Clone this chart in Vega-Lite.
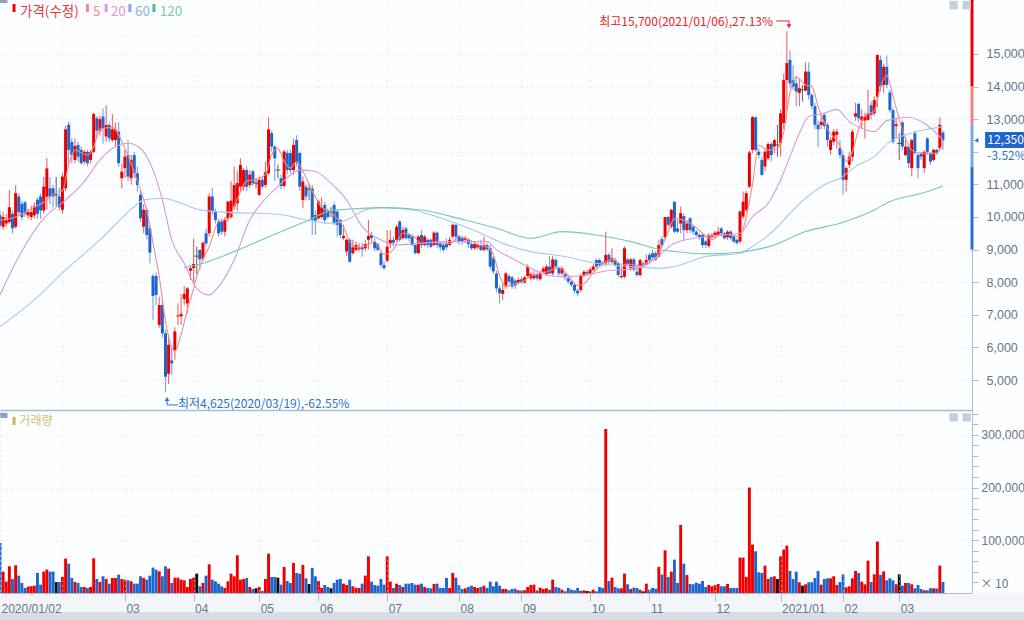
{
"$schema":"https://vega.github.io/schema/vega-lite/v6.json",
"padding":{"left":-3,"top":-2,"right":0,"bottom":0},
"background":"#fdfeff",
"spacing":0,
"config":{"view":{"stroke":null},"font":"Liberation Sans","text":{"font":"Noto Sans CJK KR"},
"axis":{"title":null,"labelFont":"Liberation Sans","labelFontSize":12.5,"labelColor":"#66768a","domainColor":"#a9bdd3","tickColor":"#a9bdd3","gridColor":"#d5dbe4","gridDash":[1,4]}},
"datasets":{
"candles":[
{"t":0,"o":10050,"h":10200,"l":9650,"c":9750,"v":95000},
{"t":1,"o":9700,"h":10150,"l":9600,"c":10000,"v":40500},
{"t":2,"o":9800,"h":10100,"l":9700,"c":9900,"v":21500},
{"t":3,"o":9850,"h":10830,"l":9800,"c":10300,"v":50600},
{"t":4,"o":10100,"h":10200,"l":9500,"c":9650,"v":26600},
{"t":5,"o":9700,"h":10980,"l":9650,"c":10730,"v":52500},
{"t":6,"o":10630,"h":10730,"l":10050,"c":10150,"v":32900},
{"t":7,"o":10400,"h":10500,"l":9900,"c":10000,"v":19000},
{"t":8,"o":10450,"h":10500,"l":10000,"c":10100,"v":9500},
{"t":9,"o":10050,"h":10250,"l":9950,"c":10150,"v":12000},
{"t":10,"o":10000,"h":10350,"l":9900,"c":10150,"v":12700},
{"t":11,"o":10050,"h":10450,"l":9950,"c":10330,"v":13900},
{"t":12,"o":10530,"h":10600,"l":9950,"c":10100,"v":38000},
{"t":13,"o":10630,"h":10730,"l":9950,"c":10200,"v":15800},
{"t":14,"o":10200,"h":11230,"l":10100,"c":10930,"v":40500},
{"t":15,"o":10620,"h":11810,"l":10220,"c":11490,"v":44300},
{"t":16,"o":10880,"h":11230,"l":10400,"c":10630,"v":40500},
{"t":17,"o":10880,"h":10980,"l":10300,"c":10630,"v":40500},
{"t":18,"o":10680,"h":11230,"l":10320,"c":10680,"v":20900},
{"t":19,"o":10630,"h":10900,"l":10200,"c":10300,"v":20900},
{"t":20,"o":10220,"h":11350,"l":10100,"c":11240,"v":30400},
{"t":21,"o":10880,"h":12790,"l":10800,"c":12690,"v":65200},
{"t":22,"o":12830,"h":12930,"l":11650,"c":12060,"v":55700},
{"t":23,"o":12300,"h":12410,"l":11650,"c":11900,"v":28500},
{"t":24,"o":11750,"h":12410,"l":11650,"c":12180,"v":20900},
{"t":25,"o":12210,"h":12310,"l":11700,"c":11850,"v":19000},
{"t":26,"o":12060,"h":12160,"l":11600,"c":11650,"v":11400},
{"t":27,"o":11700,"h":12060,"l":11600,"c":12000,"v":11400},
{"t":28,"o":12000,"h":12060,"l":11550,"c":11650,"v":9500},
{"t":29,"o":11750,"h":12060,"l":11650,"c":12000,"v":11400},
{"t":30,"o":12000,"h":13200,"l":11950,"c":13160,"v":65800},
{"t":31,"o":13030,"h":13100,"l":12400,"c":12650,"v":26600},
{"t":32,"o":12650,"h":13100,"l":12500,"c":13000,"v":20900},
{"t":33,"o":13080,"h":13330,"l":12250,"c":12720,"v":31700},
{"t":34,"o":12470,"h":13430,"l":12310,"c":12820,"v":26600},
{"t":35,"o":12820,"h":12900,"l":12300,"c":12410,"v":17700},
{"t":36,"o":12360,"h":13150,"l":12300,"c":12690,"v":28500},
{"t":37,"o":12360,"h":12900,"l":12150,"c":12690,"v":28500},
{"t":38,"o":12620,"h":12900,"l":11550,"c":11650,"v":34800},
{"t":39,"o":11190,"h":11650,"l":10880,"c":11390,"v":26600},
{"t":40,"o":11500,"h":12060,"l":11200,"c":11850,"v":25300},
{"t":41,"o":11900,"h":12360,"l":11100,"c":11240,"v":24100},
{"t":42,"o":11190,"h":11900,"l":11000,"c":11750,"v":22200},
{"t":43,"o":11900,"h":12000,"l":11200,"c":11340,"v":17700},
{"t":44,"o":11340,"h":11550,"l":10780,"c":10980,"v":17700},
{"t":45,"o":10680,"h":10830,"l":9850,"c":9960,"v":31700},
{"t":46,"o":9700,"h":10400,"l":9500,"c":10220,"v":28500},
{"t":47,"o":10220,"h":10300,"l":9300,"c":9450,"v":25300},
{"t":48,"o":9650,"h":9750,"l":8580,"c":8910,"v":32900},
{"t":49,"o":8190,"h":8250,"l":6850,"c":7580,"v":48100},
{"t":50,"o":8190,"h":8300,"l":7300,"c":7610,"v":44300},
{"t":51,"o":6690,"h":7550,"l":6600,"c":7300,"v":41100},
{"t":52,"o":7300,"h":7400,"l":6300,"c":6430,"v":31700},
{"t":53,"o":6430,"h":6550,"l":4625,"c":5100,"v":50600},
{"t":54,"o":5190,"h":6380,"l":4880,"c":6080,"v":46200},
{"t":55,"o":5600,"h":6000,"l":5150,"c":5510,"v":19000},
{"t":56,"o":5920,"h":6620,"l":5630,"c":6490,"v":29100},
{"t":57,"o":6950,"h":7350,"l":6690,"c":6980,"v":29100},
{"t":58,"o":6950,"h":7640,"l":6690,"c":7030,"v":25300},
{"t":59,"o":7480,"h":7880,"l":7300,"c":7640,"v":24100},
{"t":60,"o":7350,"h":7850,"l":7050,"c":7810,"v":11400},
{"t":61,"o":8350,"h":8530,"l":8070,"c":8430,"v":26600},
{"t":62,"o":8430,"h":9340,"l":7970,"c":8560,"v":29100},
{"t":63,"o":8800,"h":9090,"l":8250,"c":8800,"v":36700},
{"t":64,"o":8990,"h":9000,"l":8380,"c":8700,"v":12700},
{"t":65,"o":8730,"h":9250,"l":8650,"c":9210,"v":19000},
{"t":66,"o":9500,"h":9650,"l":9100,"c":9190,"v":32900},
{"t":67,"o":9500,"h":10730,"l":9400,"c":10630,"v":54400},
{"t":68,"o":10630,"h":10880,"l":10050,"c":10160,"v":25300},
{"t":69,"o":10160,"h":10250,"l":9800,"c":9910,"v":22200},
{"t":70,"o":9860,"h":9950,"l":9400,"c":9500,"v":17700},
{"t":71,"o":9860,"h":9950,"l":9450,"c":9550,"v":12700},
{"t":72,"o":9550,"h":10000,"l":9400,"c":9910,"v":9500},
{"t":73,"o":9950,"h":10500,"l":9850,"c":10470,"v":22200},
{"t":74,"o":10000,"h":11100,"l":9950,"c":10500,"v":36700},
{"t":75,"o":10320,"h":11550,"l":10220,"c":10980,"v":31700},
{"t":76,"o":10420,"h":11400,"l":10200,"c":11040,"v":71500},
{"t":77,"o":10930,"h":11800,"l":10800,"c":11600,"v":25300},
{"t":78,"o":10930,"h":11500,"l":10800,"c":11440,"v":26600},
{"t":79,"o":11440,"h":11550,"l":10800,"c":10930,"v":28500},
{"t":80,"o":10980,"h":11440,"l":10900,"c":11300,"v":11400},
{"t":81,"o":11400,"h":11450,"l":10950,"c":11040,"v":7600},
{"t":82,"o":11035,"h":11190,"l":10880,"c":11035,"v":8900},
{"t":83,"o":10680,"h":11240,"l":10650,"c":11140,"v":11400},
{"t":84,"o":11140,"h":11240,"l":10850,"c":10930,"v":3800},
{"t":85,"o":10980,"h":11700,"l":10900,"c":11370,"v":26600},
{"t":86,"o":11340,"h":13060,"l":11300,"c":12690,"v":74700},
{"t":87,"o":12570,"h":12650,"l":12000,"c":12160,"v":30400},
{"t":88,"o":12160,"h":12200,"l":11100,"c":11800,"v":30400},
{"t":89,"o":11440,"h":11600,"l":11190,"c":11440,"v":29100},
{"t":90,"o":11190,"h":11300,"l":10850,"c":10950,"v":15800},
{"t":91,"o":10950,"h":12060,"l":10880,"c":12010,"v":49400},
{"t":92,"o":11960,"h":12060,"l":11300,"c":11440,"v":22800},
{"t":93,"o":11960,"h":12060,"l":11340,"c":11440,"v":19000},
{"t":94,"o":11440,"h":12400,"l":11300,"c":12210,"v":57000},
{"t":95,"o":12360,"h":12510,"l":11550,"c":11650,"v":38000},
{"t":96,"o":11960,"h":12000,"l":10800,"c":10930,"v":36700},
{"t":97,"o":10520,"h":11240,"l":10270,"c":11090,"v":53200},
{"t":98,"o":10930,"h":11000,"l":10500,"c":10630,"v":27900},
{"t":99,"o":10850,"h":11030,"l":10520,"c":10850,"v":17100},
{"t":100,"o":10880,"h":10980,"l":9450,"c":9910,"v":47500},
{"t":101,"o":10060,"h":10200,"l":9450,"c":9890,"v":31700},
{"t":102,"o":9960,"h":10520,"l":9900,"c":10470,"v":22800},
{"t":103,"o":10000,"h":10600,"l":9950,"c":10300,"v":9500},
{"t":104,"o":10370,"h":10470,"l":9800,"c":9900,"v":15200},
{"t":105,"o":10200,"h":10250,"l":9950,"c":10000,"v":11400},
{"t":106,"o":10150,"h":10300,"l":10000,"c":10150,"v":8900},
{"t":107,"o":10370,"h":10450,"l":9750,"c":9810,"v":19000},
{"t":108,"o":10165,"h":10200,"l":9400,"c":9760,"v":25300},
{"t":109,"o":9910,"h":9950,"l":9350,"c":9450,"v":26600},
{"t":110,"o":9350,"h":9760,"l":9300,"c":9420,"v":17700},
{"t":111,"o":8940,"h":9350,"l":8800,"c":9300,"v":15200},
{"t":112,"o":9300,"h":9350,"l":8600,"c":8630,"v":25300},
{"t":113,"o":8890,"h":9300,"l":8840,"c":9070,"v":12700},
{"t":114,"o":8990,"h":9250,"l":8950,"c":9140,"v":10100},
{"t":115,"o":9010,"h":9200,"l":8950,"c":9070,"v":9500},
{"t":116,"o":9090,"h":9210,"l":8780,"c":9010,"v":17700},
{"t":117,"o":9040,"h":9300,"l":8950,"c":9170,"v":32900},
{"t":118,"o":9300,"h":9910,"l":9000,"c":9420,"v":69600},
{"t":119,"o":9450,"h":9550,"l":9250,"c":9350,"v":21500},
{"t":120,"o":9240,"h":9350,"l":8950,"c":9040,"v":15200},
{"t":121,"o":9170,"h":9200,"l":8950,"c":8990,"v":13900},
{"t":122,"o":8890,"h":8950,"l":8450,"c":8530,"v":26600},
{"t":123,"o":8530,"h":8650,"l":8380,"c":8430,"v":15800},
{"t":124,"o":8660,"h":9600,"l":8600,"c":9090,"v":69600},
{"t":125,"o":9190,"h":9600,"l":9050,"c":9300,"v":21500},
{"t":126,"o":9300,"h":9400,"l":9100,"c":9210,"v":9500},
{"t":127,"o":9300,"h":9760,"l":9250,"c":9700,"v":17700},
{"t":128,"o":9860,"h":9900,"l":9250,"c":9300,"v":15200},
{"t":129,"o":9350,"h":9700,"l":9300,"c":9600,"v":11400},
{"t":130,"o":9650,"h":9720,"l":9300,"c":9350,"v":17700},
{"t":131,"o":9450,"h":9500,"l":9250,"c":9350,"v":17700},
{"t":132,"o":9400,"h":9450,"l":9100,"c":9140,"v":19000},
{"t":133,"o":9140,"h":9200,"l":8850,"c":8890,"v":15800},
{"t":134,"o":8890,"h":9450,"l":8850,"c":9400,"v":15800},
{"t":135,"o":9450,"h":9600,"l":9050,"c":9140,"v":17700},
{"t":136,"o":9140,"h":9450,"l":9100,"c":9400,"v":11400},
{"t":137,"o":9300,"h":9350,"l":9050,"c":9140,"v":9500},
{"t":138,"o":9300,"h":9350,"l":9050,"c":9090,"v":8900},
{"t":139,"o":9140,"h":9560,"l":9100,"c":9520,"v":17100},
{"t":140,"o":9520,"h":9560,"l":9050,"c":9140,"v":17700},
{"t":141,"o":9190,"h":9250,"l":8950,"c":9070,"v":9500},
{"t":142,"o":9140,"h":9200,"l":8940,"c":8990,"v":9500},
{"t":143,"o":9190,"h":9350,"l":9000,"c":9070,"v":28500},
{"t":144,"o":9140,"h":9400,"l":9100,"c":9300,"v":9500},
{"t":145,"o":9400,"h":9800,"l":9350,"c":9760,"v":38000},
{"t":146,"o":9760,"h":9800,"l":9250,"c":9400,"v":29100},
{"t":147,"o":9420,"h":9450,"l":9150,"c":9250,"v":15200},
{"t":148,"o":9350,"h":9400,"l":9150,"c":9250,"v":7600},
{"t":149,"o":9300,"h":9420,"l":9200,"c":9350,"v":8900},
{"t":150,"o":9300,"h":9350,"l":9050,"c":9170,"v":11400},
{"t":151,"o":9170,"h":9250,"l":8990,"c":9040,"v":13900},
{"t":152,"o":9040,"h":9250,"l":8990,"c":9170,"v":11400},
{"t":153,"o":9070,"h":9200,"l":9000,"c":9140,"v":9500},
{"t":154,"o":9140,"h":9300,"l":8950,"c":8990,"v":11400},
{"t":155,"o":8990,"h":9400,"l":8950,"c":9140,"v":13900},
{"t":156,"o":9140,"h":9200,"l":8960,"c":9010,"v":9500},
{"t":157,"o":9040,"h":9140,"l":8400,"c":8480,"v":21500},
{"t":158,"o":8730,"h":8800,"l":8250,"c":8330,"v":12700},
{"t":159,"o":8270,"h":8350,"l":7700,"c":7810,"v":21500},
{"t":160,"o":7810,"h":7900,"l":7350,"c":7660,"v":13900},
{"t":161,"o":7640,"h":7950,"l":7450,"c":7760,"v":7600},
{"t":162,"o":7870,"h":8330,"l":7800,"c":8270,"v":7600},
{"t":163,"o":8190,"h":8250,"l":7950,"c":8020,"v":5100},
{"t":164,"o":8150,"h":8200,"l":7800,"c":7870,"v":7600},
{"t":165,"o":8050,"h":8100,"l":7780,"c":7900,"v":8200},
{"t":166,"o":7990,"h":8150,"l":7930,"c":8070,"v":5100},
{"t":167,"o":8090,"h":8170,"l":7950,"c":8000,"v":5100},
{"t":168,"o":7990,"h":8200,"l":7950,"c":8150,"v":5100},
{"t":169,"o":8190,"h":8550,"l":8150,"c":8480,"v":11400},
{"t":170,"o":8120,"h":8300,"l":8050,"c":8250,"v":15200},
{"t":171,"o":8120,"h":8350,"l":8070,"c":8220,"v":15800},
{"t":172,"o":8250,"h":8300,"l":8050,"c":8120,"v":5100},
{"t":173,"o":8090,"h":8350,"l":8050,"c":8290,"v":10100},
{"t":174,"o":8320,"h":8480,"l":8280,"c":8420,"v":7600},
{"t":175,"o":8250,"h":8550,"l":8200,"c":8480,"v":8900},
{"t":176,"o":8480,"h":8800,"l":8250,"c":8270,"v":6300},
{"t":177,"o":8270,"h":8800,"l":8200,"c":8700,"v":25300},
{"t":178,"o":8680,"h":8750,"l":8400,"c":8480,"v":11400},
{"t":179,"o":8430,"h":8480,"l":8200,"c":8270,"v":10100},
{"t":180,"o":8270,"h":8480,"l":8220,"c":8430,"v":6300},
{"t":181,"o":8250,"h":8300,"l":8050,"c":8150,"v":3200},
{"t":182,"o":8120,"h":8180,"l":7950,"c":8020,"v":9500},
{"t":183,"o":8020,"h":8050,"l":7850,"c":7920,"v":6300},
{"t":184,"o":7920,"h":7970,"l":7650,"c":7740,"v":5100},
{"t":185,"o":7740,"h":7800,"l":7580,"c":7660,"v":9500},
{"t":186,"o":7760,"h":8250,"l":7700,"c":8190,"v":3800},
{"t":187,"o":8200,"h":8380,"l":8150,"c":8320,"v":5100},
{"t":188,"o":8290,"h":8370,"l":8200,"c":8290,"v":3800},
{"t":189,"o":8270,"h":8450,"l":8230,"c":8390,"v":3200},
{"t":190,"o":8380,"h":8550,"l":8330,"c":8480,"v":6300},
{"t":191,"o":8680,"h":8720,"l":8430,"c":8480,"v":3200},
{"t":192,"o":8680,"h":8730,"l":8480,"c":8530,"v":11400},
{"t":193,"o":8600,"h":8650,"l":8500,"c":8550,"v":9500},
{"t":194,"o":8580,"h":9550,"l":8500,"c":8840,"v":311000},
{"t":195,"o":8840,"h":8900,"l":8550,"c":8630,"v":22800},
{"t":196,"o":8630,"h":9040,"l":8560,"c":8740,"v":29100},
{"t":197,"o":8680,"h":8750,"l":8480,"c":8530,"v":11400},
{"t":198,"o":8580,"h":8630,"l":8150,"c":8220,"v":8900},
{"t":199,"o":8150,"h":8480,"l":8120,"c":8190,"v":8900},
{"t":200,"o":8170,"h":9100,"l":8120,"c":9040,"v":36700},
{"t":201,"o":8700,"h":8750,"l":8500,"c":8560,"v":16500},
{"t":202,"o":8430,"h":8750,"l":8350,"c":8700,"v":7600},
{"t":203,"o":8700,"h":8750,"l":8330,"c":8380,"v":10100},
{"t":204,"o":8320,"h":8500,"l":8170,"c":8220,"v":9500},
{"t":205,"o":8220,"h":8730,"l":8170,"c":8680,"v":6300},
{"t":206,"o":8550,"h":8620,"l":8470,"c":8550,"v":3200},
{"t":207,"o":8560,"h":8850,"l":8500,"c":8680,"v":17700},
{"t":208,"o":8840,"h":8900,"l":8630,"c":8680,"v":6300},
{"t":209,"o":8890,"h":9000,"l":8700,"c":8760,"v":9500},
{"t":210,"o":8890,"h":8950,"l":8650,"c":8700,"v":8200},
{"t":211,"o":8790,"h":9300,"l":8750,"c":9140,"v":49400},
{"t":212,"o":9320,"h":9400,"l":9050,"c":9140,"v":34800},
{"t":213,"o":9380,"h":10000,"l":9300,"c":10000,"v":81000},
{"t":214,"o":10000,"h":10030,"l":9700,"c":9760,"v":30400},
{"t":215,"o":9710,"h":10250,"l":9650,"c":10220,"v":40500},
{"t":216,"o":10470,"h":10470,"l":9500,"c":9550,"v":63300},
{"t":217,"o":9650,"h":9900,"l":9500,"c":9550,"v":19000},
{"t":218,"o":9800,"h":10320,"l":9500,"c":10120,"v":129000},
{"t":219,"o":10030,"h":10100,"l":9300,"c":9600,"v":55700},
{"t":220,"o":9590,"h":9900,"l":9500,"c":9800,"v":34200},
{"t":221,"o":9960,"h":9990,"l":9500,"c":9600,"v":17100},
{"t":222,"o":9700,"h":9750,"l":9450,"c":9550,"v":16500},
{"t":223,"o":9550,"h":9600,"l":9400,"c":9450,"v":19600},
{"t":224,"o":9450,"h":9500,"l":9300,"c":9380,"v":17700},
{"t":225,"o":9450,"h":9500,"l":9050,"c":9140,"v":22800},
{"t":226,"o":9250,"h":9300,"l":9050,"c":9140,"v":11400},
{"t":227,"o":9110,"h":9500,"l":9050,"c":9450,"v":15200},
{"t":228,"o":9380,"h":9520,"l":9330,"c":9450,"v":12700},
{"t":229,"o":9420,"h":9580,"l":9350,"c":9520,"v":15200},
{"t":230,"o":9450,"h":9700,"l":9420,"c":9550,"v":17100},
{"t":231,"o":9650,"h":9700,"l":9420,"c":9500,"v":12700},
{"t":232,"o":9500,"h":9550,"l":9300,"c":9350,"v":12700},
{"t":233,"o":9380,"h":9600,"l":9300,"c":9550,"v":17100},
{"t":234,"o":9550,"h":9600,"l":9300,"c":9350,"v":9500},
{"t":235,"o":9400,"h":9450,"l":9200,"c":9250,"v":9500},
{"t":236,"o":9300,"h":9350,"l":9150,"c":9200,"v":9500},
{"t":237,"o":9250,"h":10200,"l":9180,"c":10170,"v":67100},
{"t":238,"o":10010,"h":10780,"l":9950,"c":10470,"v":67100},
{"t":239,"o":10220,"h":10800,"l":10150,"c":10730,"v":30400},
{"t":240,"o":10930,"h":12050,"l":10880,"c":11980,"v":200000},
{"t":241,"o":12060,"h":13100,"l":11950,"c":13060,"v":91800},
{"t":242,"o":13060,"h":13080,"l":12000,"c":12060,"v":79100},
{"t":243,"o":12000,"h":12100,"l":11800,"c":11900,"v":39200},
{"t":244,"o":11750,"h":11850,"l":11250,"c":11290,"v":38000},
{"t":245,"o":11550,"h":12060,"l":11400,"c":12000,"v":51900},
{"t":246,"o":11800,"h":12300,"l":11750,"c":12240,"v":26600},
{"t":247,"o":12240,"h":12300,"l":11700,"c":11900,"v":30400},
{"t":248,"o":12160,"h":12400,"l":11950,"c":12360,"v":31700},
{"t":249,"o":12210,"h":12820,"l":11850,"c":12210,"v":26600},
{"t":250,"o":12260,"h":13300,"l":11860,"c":13180,"v":69600},
{"t":251,"o":12880,"h":14400,"l":12700,"c":14200,"v":82300},
{"t":252,"o":14200,"h":15700,"l":13300,"c":14720,"v":89900},
{"t":253,"o":14820,"h":15100,"l":13950,"c":14100,"v":41800},
{"t":254,"o":14200,"h":14650,"l":13900,"c":14000,"v":26600},
{"t":255,"o":14100,"h":14300,"l":13400,"c":13850,"v":40500},
{"t":256,"o":13800,"h":14250,"l":13400,"c":13950,"v":20300},
{"t":257,"o":13900,"h":14050,"l":13540,"c":13900,"v":13900},
{"t":258,"o":13880,"h":14750,"l":13850,"c":14460,"v":16500},
{"t":259,"o":14460,"h":14750,"l":13600,"c":13740,"v":20300},
{"t":260,"o":13740,"h":13800,"l":13300,"c":13400,"v":20300},
{"t":261,"o":13400,"h":13500,"l":12700,"c":12830,"v":28500},
{"t":262,"o":12830,"h":12950,"l":12150,"c":12690,"v":41800},
{"t":263,"o":12820,"h":13130,"l":12700,"c":12920,"v":15800},
{"t":264,"o":13130,"h":13200,"l":12700,"c":12790,"v":26600},
{"t":265,"o":12830,"h":12900,"l":12150,"c":12360,"v":27900},
{"t":266,"o":12060,"h":12450,"l":11900,"c":12360,"v":27900},
{"t":267,"o":12310,"h":12700,"l":12200,"c":12620,"v":31700},
{"t":268,"o":12520,"h":12700,"l":12100,"c":12620,"v":15200},
{"t":269,"o":12110,"h":12360,"l":11800,"c":11900,"v":20900},
{"t":270,"o":11900,"h":11950,"l":10700,"c":11140,"v":35400},
{"t":271,"o":11140,"h":11550,"l":10780,"c":11500,"v":10800},
{"t":272,"o":11600,"h":12000,"l":11500,"c":11850,"v":12700},
{"t":273,"o":11850,"h":12700,"l":11700,"c":12620,"v":27900},
{"t":274,"o":13080,"h":13500,"l":12950,"c":13180,"v":41800},
{"t":275,"o":13470,"h":13500,"l":12900,"c":13030,"v":38000},
{"t":276,"o":12960,"h":13300,"l":12700,"c":13080,"v":21500},
{"t":277,"o":12960,"h":13200,"l":12400,"c":13080,"v":16500},
{"t":278,"o":12980,"h":13900,"l":12950,"c":13180,"v":61400},
{"t":279,"o":13430,"h":13550,"l":13000,"c":13130,"v":20900},
{"t":280,"o":13180,"h":13700,"l":13100,"c":13590,"v":35400},
{"t":281,"o":13690,"h":14980,"l":13350,"c":14970,"v":97500},
{"t":282,"o":14820,"h":14950,"l":13850,"c":14000,"v":34200},
{"t":283,"o":14050,"h":14700,"l":13800,"c":14610,"v":41100},
{"t":284,"o":14610,"h":14950,"l":13950,"c":14050,"v":24100},
{"t":285,"o":13820,"h":13900,"l":13200,"c":13280,"v":27900},
{"t":286,"o":13280,"h":13350,"l":12250,"c":12310,"v":24100},
{"t":287,"o":12790,"h":13030,"l":12400,"c":12850,"v":16500},
{"t":288,"o":12260,"h":12570,"l":11750,"c":12260,"v":35400},
{"t":289,"o":12900,"h":12950,"l":12050,"c":12160,"v":13900},
{"t":290,"o":11900,"h":12460,"l":11850,"c":12160,"v":19000},
{"t":291,"o":12160,"h":12250,"l":11500,"c":11650,"v":19000},
{"t":292,"o":11500,"h":12400,"l":11240,"c":12360,"v":16500},
{"t":293,"o":12570,"h":12650,"l":11900,"c":11960,"v":8900},
{"t":294,"o":11900,"h":11950,"l":11190,"c":11500,"v":15200},
{"t":295,"o":11960,"h":12000,"l":11750,"c":11850,"v":7600},
{"t":296,"o":11500,"h":12050,"l":11340,"c":12000,"v":5100},
{"t":297,"o":12410,"h":12450,"l":11900,"c":12000,"v":5100},
{"t":298,"o":11950,"h":12000,"l":11600,"c":11700,"v":8900},
{"t":299,"o":11750,"h":12100,"l":11700,"c":12060,"v":8900},
{"t":300,"o":12060,"h":12100,"l":11900,"c":11960,"v":8900},
{"t":301,"o":12110,"h":13060,"l":12060,"c":12830,"v":51900},
{"t":302,"o":12590,"h":12650,"l":12060,"c":12350,"v":20900}
],
"ma":[
{"s":"5","t":0,"p":9900},{"s":"5","t":5,"p":10000},{"s":"5","t":10,"p":10250},{"s":"5","t":14,"p":10450},{"s":"5","t":18,"p":10750},{"s":"5","t":20,"p":10800},{"s":"5","t":22,"p":11600},{"s":"5","t":24,"p":12050},{"s":"5","t":28,"p":11900},{"s":"5","t":30,"p":12150},{"s":"5","t":32,"p":12700},{"s":"5","t":36,"p":12750},{"s":"5","t":40,"p":12100},{"s":"5","t":44,"p":11100},{"s":"5","t":47,"p":10200},{"s":"5","t":49,"p":9200},{"s":"5","t":51,"p":8170},{"s":"5","t":53,"p":6800},{"s":"5","t":55,"p":6000},{"s":"5","t":56,"p":5870},{"s":"5","t":58,"p":6400},{"s":"5","t":60,"p":7150},{"s":"5","t":62,"p":7800},{"s":"5","t":63,"p":8170},{"s":"5","t":65,"p":8700},{"s":"5","t":67,"p":9090},{"s":"5","t":70,"p":9850},{"s":"5","t":73,"p":9950},{"s":"5","t":76,"p":10550},{"s":"5","t":79,"p":11100},{"s":"5","t":82,"p":11150},{"s":"5","t":85,"p":11300},{"s":"5","t":87,"p":11900},{"s":"5","t":89,"p":12100},{"s":"5","t":91,"p":11700},{"s":"5","t":93,"p":11500},{"s":"5","t":95,"p":11700},{"s":"5","t":97,"p":11400},{"s":"5","t":100,"p":10800},{"s":"5","t":103,"p":10300},{"s":"5","t":106,"p":10150},{"s":"5","t":108,"p":9950},{"s":"5","t":110,"p":9700},{"s":"5","t":112,"p":9250},{"s":"5","t":115,"p":9050},{"s":"5","t":118,"p":9150},{"s":"5","t":120,"p":9250},{"s":"5","t":123,"p":8850},{"s":"5","t":126,"p":9000},{"s":"5","t":129,"p":9500},{"s":"5","t":132,"p":9450},{"s":"5","t":135,"p":9180},{"s":"5","t":138,"p":9220},{"s":"5","t":141,"p":9200},{"s":"5","t":144,"p":9180},{"s":"5","t":147,"p":9400},{"s":"5","t":150,"p":9320},{"s":"5","t":153,"p":9150},{"s":"5","t":156,"p":9080},{"s":"5","t":158,"p":8850},{"s":"5","t":160,"p":8200},{"s":"5","t":162,"p":7880},{"s":"5","t":165,"p":7950},{"s":"5","t":168,"p":8050},{"s":"5","t":170,"p":8200},{"s":"5","t":173,"p":8250},{"s":"5","t":176,"p":8350},{"s":"5","t":179,"p":8450},{"s":"5","t":182,"p":8200},{"s":"5","t":185,"p":7900},{"s":"5","t":187,"p":7950},{"s":"5","t":190,"p":8300},{"s":"5","t":193,"p":8550},{"s":"5","t":196,"p":8700},{"s":"5","t":199,"p":8550},{"s":"5","t":202,"p":8550},{"s":"5","t":205,"p":8500},{"s":"5","t":208,"p":8650},{"s":"5","t":210,"p":8750},{"s":"5","t":213,"p":9300},{"s":"5","t":216,"p":9950},{"s":"5","t":219,"p":9900},{"s":"5","t":222,"p":9750},{"s":"5","t":225,"p":9500},{"s":"5","t":228,"p":9300},{"s":"5","t":231,"p":9480},{"s":"5","t":234,"p":9450},{"s":"5","t":237,"p":9400},{"s":"5","t":239,"p":10000},{"s":"5","t":241,"p":11000},{"s":"5","t":243,"p":12200},{"s":"5","t":246,"p":12050},{"s":"5","t":249,"p":12100},{"s":"5","t":251,"p":12600},{"s":"5","t":253,"p":13800},{"s":"5","t":255,"p":14300},{"s":"5","t":258,"p":14050},{"s":"5","t":260,"p":14000},{"s":"5","t":262,"p":13400},{"s":"5","t":264,"p":12900},{"s":"5","t":266,"p":12550},{"s":"5","t":268,"p":12350},{"s":"5","t":270,"p":11950},{"s":"5","t":271,"p":11700},{"s":"5","t":273,"p":12000},{"s":"5","t":275,"p":12700},{"s":"5","t":277,"p":13100},{"s":"5","t":280,"p":13250},{"s":"5","t":282,"p":14000},{"s":"5","t":284,"p":14350},{"s":"5","t":286,"p":13700},{"s":"5","t":288,"p":13000},{"s":"5","t":290,"p":12400},{"s":"5","t":292,"p":12050},{"s":"5","t":295,"p":11950},{"s":"5","t":298,"p":11950},{"s":"5","t":300,"p":11950},{"s":"5","t":302,"p":12300},
{"s":"20","t":0,"p":7610},{"s":"20","t":6,"p":8780},{"s":"20","t":14,"p":9960},{"s":"20","t":21,"p":10520},{"s":"20","t":27,"p":11086},{"s":"20","t":32,"p":11750},{"s":"20","t":37,"p":12160},{"s":"20","t":41,"p":12260},{"s":"20","t":45,"p":12100},{"s":"20","t":49,"p":11444},{"s":"20","t":52,"p":10522},{"s":"20","t":55,"p":9296},{"s":"20","t":59,"p":8580},{"s":"20","t":63,"p":7814},{"s":"20","t":67,"p":7610},{"s":"20","t":70,"p":7865},{"s":"20","t":75,"p":8683},{"s":"20","t":80,"p":9909},{"s":"20","t":85,"p":10560},{"s":"20","t":89,"p":10933},{"s":"20","t":93,"p":11290},{"s":"20","t":96,"p":11444},{"s":"20","t":101,"p":11393},{"s":"20","t":106,"p":11033},{"s":"20","t":111,"p":10522},{"s":"20","t":116,"p":9705},{"s":"20","t":122,"p":9296},{"s":"20","t":127,"p":9142},{"s":"20","t":132,"p":9173},{"s":"20","t":143,"p":9245},{"s":"20","t":156,"p":9245},{"s":"20","t":159,"p":8990},{"s":"20","t":164,"p":8734},{"s":"20","t":170,"p":8427},{"s":"20","t":175,"p":8223},{"s":"20","t":180,"p":8172},{"s":"20","t":188,"p":8223},{"s":"20","t":194,"p":8345},{"s":"20","t":202,"p":8400},{"s":"20","t":207,"p":8529},{"s":"20","t":212,"p":8900},{"s":"20","t":216,"p":9195},{"s":"20","t":226,"p":9400},{"s":"20","t":237,"p":9500},{"s":"20","t":241,"p":10013},{"s":"20","t":246,"p":10422},{"s":"20","t":250,"p":11137},{"s":"20","t":253,"p":11853},{"s":"20","t":256,"p":12568},{"s":"20","t":259,"p":13079},{"s":"20","t":264,"p":13181},{"s":"20","t":268,"p":13300},{"s":"20","t":272,"p":12926},{"s":"20","t":276,"p":12721},{"s":"20","t":280,"p":12619},{"s":"20","t":284,"p":12956},{"s":"20","t":291,"p":13059},{"s":"20","t":296,"p":12875},{"s":"20","t":302,"p":12364},
{"s":"60","t":0,"p":6638},{"s":"60","t":11,"p":7456},{"s":"60","t":21,"p":8376},{"s":"60","t":32,"p":9296},{"s":"60","t":43,"p":10318},{"s":"60","t":46,"p":10524},{"s":"60","t":52,"p":10575},{"s":"60","t":58,"p":10422},{"s":"60","t":64,"p":10218},{"s":"60","t":75,"p":10134},{"s":"60","t":83,"p":10113},{"s":"60","t":91,"p":10062},{"s":"60","t":99,"p":9888},{"s":"60","t":106,"p":9807},{"s":"60","t":111,"p":9909},{"s":"60","t":117,"p":10216},{"s":"60","t":122,"p":10287},{"s":"60","t":132,"p":10216},{"s":"60","t":143,"p":9909},{"s":"60","t":154,"p":9500},{"s":"60","t":161,"p":9194},{"s":"60","t":170,"p":8938},{"s":"60","t":180,"p":8805},{"s":"60","t":191,"p":8580},{"s":"60","t":202,"p":8478},{"s":"60","t":212,"p":8427},{"s":"60","t":216,"p":8480},{"s":"60","t":226,"p":8787},{"s":"60","t":237,"p":8890},{"s":"60","t":241,"p":9093},{"s":"60","t":248,"p":9604},{"s":"60","t":253,"p":10115},{"s":"60","t":258,"p":10575},{"s":"60","t":265,"p":11035},{"s":"60","t":269,"p":11188},{"s":"60","t":274,"p":11546},{"s":"60","t":280,"p":11853},{"s":"60","t":285,"p":12313},{"s":"60","t":290,"p":12517},{"s":"60","t":296,"p":12670},{"s":"60","t":302,"p":12772},
{"s":"120","t":59,"p":8447},{"s":"120","t":65,"p":8580},{"s":"120","t":75,"p":8938},{"s":"120","t":85,"p":9347},{"s":"120","t":99,"p":9909},{"s":"120","t":106,"p":10195},{"s":"120","t":111,"p":10236},{"s":"120","t":122,"p":10287},{"s":"120","t":135,"p":10216},{"s":"120","t":148,"p":9929},{"s":"120","t":159,"p":9654},{"s":"120","t":170,"p":9347},{"s":"120","t":180,"p":9551},{"s":"120","t":191,"p":9449},{"s":"120","t":202,"p":9245},{"s":"120","t":212,"p":8990},{"s":"120","t":216,"p":8940},{"s":"120","t":226,"p":8868},{"s":"120","t":237,"p":8920},{"s":"120","t":248,"p":9144},{"s":"120","t":258,"p":9553},{"s":"120","t":269,"p":9809},{"s":"120","t":280,"p":10217},{"s":"120","t":285,"p":10473},{"s":"120","t":296,"p":10749},{"s":"120","t":302,"p":10953}
],
"legendNotes":[
{"t":6.4,"p":16300,"label":"가격(수정)","g":"price"},
{"t":29.8,"p":16300,"label":"5","g":"5"},
{"t":35.5,"p":16300,"label":"20","g":"20"},
{"t":43.2,"p":16300,"label":"60","g":"60"},
{"t":51.2,"p":16300,"label":"120","g":"120"}
],
"priceNotes":[
{"t":191.9,"p":15985,"label":"최고15,700(2021/01/06),27.13%","g":"high"},
{"t":57,"p":4270,"label":"최저4,625(2020/03/19),-62.55%","g":"low"},
{"t":316.2,"p":12350,"label":"12,350","g":"now"},
{"t":316.2,"p":11880,"label":"-3.52%","g":"low"}
],
"priceKeys":[
{"t":4.5,"p":16533,"p2":16288,"g":"price"},
{"t":28,"p":16533,"p2":16288,"g":"5"},
{"t":34,"p":16533,"p2":16288,"g":"20"},
{"t":41.6,"p":16533,"p2":16288,"g":"60"},
{"t":49.3,"p":16533,"p2":16288,"g":"120"}
],
"guides":[
{"t":248.6,"p":16012,"g":"high"},{"t":252.7,"p":16012,"g":"high"},{"t":252.7,"p":15860,"g":"high"},
{"t":57,"p":4235,"g":"low"},{"t":53.5,"p":4235,"g":"low"},{"t":53.5,"p":4400,"g":"low"}
],
"heads":[
{"t":252.7,"p":15850,"g":"high","shape":"triangle-down"},
{"t":53.5,"p":4420,"g":"low","shape":"triangle-up"},
{"t":312.7,"p":12350,"g":"low","shape":"triangle-left"}
],
"box":[{"t":315.5,"t2":328,"p":12608,"p2":12117}],
"corner":[{"t":0,"t2":2.4,"p":16656,"p2":16560}],
"span":[
{"t":311.3,"p":16656,"p2":14000,"g":"a"},
{"t":311.3,"p":14000,"p2":12830,"g":"b"},
{"t":311.3,"p":12830,"p2":11530,"g":"c"},
{"t":311.3,"p":11530,"p2":9000,"g":"d"}
],
"buttons":[{"t":305.4,"p":16500},{"t":309.6,"p":16500}],
"volNotes":[
{"t":6.2,"v":326500,"label":"거래량","g":"vol"},
{"t":314,"v":17000,"label":"× 10","g":"unit"}
],
"volKeys":[{"t":4.5,"v":334000,"v2":318500}],
"volCorner":[{"t":0,"t2":2.4,"v":341700,"v2":332000}],
"volButtons":[{"t":305.4,"v":333000},{"t":309.6,"v":333000}],
"strip":[
{"t":0,"t2":328,"v":0,"v2":-36000,"g":"axis"},
{"t":0,"t2":328,"v":-36000,"v2":-51000,"g":"bar"}
]
},
"vconcat":[
{
"width":972,"height":410,
"encoding":{"x":{"field":"t","type":"quantitative","scale":{"domain":[0,311.3],"padding":0},
"axis":{"values":[20,40,62,83,102,124,147,167,189,208,229,250,270,288],"labels":false,"ticks":false,"grid":true,"domainColor":"#a9bdd3","domainWidth":1.5}}},
"resolve":{"scale":{"color":"independent","shape":"independent"},"axis":{"y":"independent"}},
"layer":[
{"data":{"name":"candles"},"mark":{"type":"rule","strokeWidth":1.1,"opacity":0.65,"clip":true},
"encoding":{"y":{"field":"l","type":"quantitative","scale":{"domain":[4080,16656]},
"axis":{"orient":"right","values":[5000,6000,7000,8000,9000,10000,11000,12000,13000,14000,15000],"labelExpr":"datum.value===12000?'':format(datum.value,',')","grid":true,"tickSize":6,"labelPadding":8}},
"y2":{"field":"h"},
"color":{"condition":[{"test":"datum.c>datum.o","value":"#ee1111"},{"test":"datum.c<datum.o","value":"#2a70d2"}],"value":"#222222"}}},
{"data":{"name":"candles"},"mark":{"type":"bar","size":3,"orient":"vertical","clip":true},
"encoding":{"y":{"field":"o","type":"quantitative","scale":{"domain":[4080,16656]},"axis":null},"y2":{"field":"c"},
"color":{"condition":[{"test":"datum.c>datum.o","value":"#ee0000"},{"test":"datum.c<datum.o","value":"#1f66cc"}],"value":"#222222"}}},
{"data":{"name":"candles"},"transform":[{"filter":"datum.o===datum.c"}],"mark":{"type":"tick","orient":"horizontal","size":5,"thickness":1,"color":"#222222"},
"encoding":{"y":{"field":"c","type":"quantitative","scale":{"domain":[4080,16656]},"axis":null}}},
{"data":{"name":"ma"},"mark":{"type":"line","strokeWidth":1.1,"interpolate":"monotone"},
"encoding":{"y":{"field":"p","type":"quantitative","scale":{"domain":[4080,16656]},"axis":null},
"color":{"field":"s","type":"nominal","legend":null,"scale":{"domain":["5","20","60","120"],"range":["#f28c8c","#dc97dc","#a8c6ee","#78c8b0"]}}}},
{"data":{"name":"span"},"mark":{"type":"rule","strokeWidth":3},
"encoding":{"y":{"field":"p","type":"quantitative","scale":{"domain":[4080,16656]},"axis":null},"y2":{"field":"p2"},
"color":{"field":"g","type":"nominal","legend":null,"scale":{"domain":["a","b","c","d"],"range":["#ee0000","#f08282","#7ea8e2","#2a70d2"]}}}},
{"data":{"name":"guides"},"mark":{"type":"line","strokeWidth":1,"interpolate":"linear"},
"encoding":{"order":{"value":null},"y":{"field":"p","type":"quantitative","scale":{"domain":[4080,16656]},"axis":null},
"detail":{"field":"g"},
"color":{"field":"g","type":"nominal","legend":null,"scale":{"domain":["high","low"],"range":["#ee2222","#2a70d2"]}}}},
{"data":{"name":"heads"},"mark":{"type":"point","filled":true,"size":22,"opacity":1},
"encoding":{"y":{"field":"p","type":"quantitative","scale":{"domain":[4080,16656]},"axis":null},
"shape":{"field":"shape","type":"nominal","legend":null,"scale":null},
"color":{"field":"g","type":"nominal","legend":null,"scale":{"domain":["high","low"],"range":["#ee2222","#2a70d2"]}}}},
{"data":{"name":"priceKeys"},"mark":{"type":"bar","size":3,"orient":"vertical"},
"encoding":{"y":{"field":"p","type":"quantitative","scale":{"domain":[4080,16656]},"axis":null},"y2":{"field":"p2"},
"color":{"field":"g","type":"nominal","legend":null,"scale":{"domain":["price","5","20","60","120"],"range":["#ee0000","#f28c8c","#dc97dc","#7ea8e2","#55b59a"]}}}},
{"data":{"name":"box"},"mark":{"type":"bar","color":"#1f66cc"},
"encoding":{"x2":{"field":"t2"},"y":{"field":"p","type":"quantitative","scale":{"domain":[4080,16656]},"axis":null},"y2":{"field":"p2"}}},
{"data":{"name":"corner"},"mark":{"type":"bar","color":"#8f9fc2"},
"encoding":{"x2":{"field":"t2"},"y":{"field":"p","type":"quantitative","scale":{"domain":[4080,16656]},"axis":null},"y2":{"field":"p2"}}},
{"data":{"name":"buttons"},"mark":{"type":"point","shape":"square","filled":true,"size":70,"color":"#c4cfdc","opacity":1},
"encoding":{"y":{"field":"p","type":"quantitative","scale":{"domain":[4080,16656]},"axis":null}}},
{"data":{"name":"legendNotes"},"mark":{"type":"text","align":"left","baseline":"middle","fontSize":13.5,"font":"Noto Sans CJK KR"},
"encoding":{"y":{"field":"p","type":"quantitative","scale":{"domain":[4080,16656]},"axis":null},
"text":{"field":"label"},
"color":{"field":"g","type":"nominal","legend":null,"scale":{"domain":["price","5","20","60","120"],"range":["#e83a3a","#f28c8c","#dc97dc","#8fb3e6","#78c8b0"]}}}},
{"data":{"name":"priceNotes"},"mark":{"type":"text","align":"left","baseline":"middle","fontSize":12,"font":"Noto Sans CJK KR"},
"encoding":{"y":{"field":"p","type":"quantitative","scale":{"domain":[4080,16656]},"axis":null},
"text":{"field":"label"},
"color":{"field":"g","type":"nominal","legend":null,"scale":{"domain":["high","low","now"],"range":["#ee2222","#2a70d2","#ffffff"]}}}}
]
},
{
"width":972,"height":183,
"encoding":{"x":{"field":"t","type":"quantitative","scale":{"domain":[0,311.3],"padding":0},
"axis":{"zindex":1,"values":[0,20,40,62,83,102,124,147,167,189,208,229,250,270,288],"grid":true,"tickSize":8,
"tickOpacity":{"condition":{"test":"datum.value===0||datum.value===20","value":0},"value":1},
"labelAlign":"left","labelOverlap":false,"labelFlush":false,"labelBound":false,"labelPadding":2,"labelOffset":1,"labelFontSize":12,
"labelExpr":"{'0':'2020/01/02','40':'03','62':'04','83':'05','102':'06','124':'07','147':'08','167':'09','189':'10','208':'11','229':'12','250':'2021/01','270':'02','288':'03'}[''+datum.value]||''"}}},
"resolve":{"scale":{"color":"independent"},"axis":{"y":"independent"}},
"layer":[
{"data":{"name":"strip"},"mark":{"type":"bar"},
"encoding":{"x2":{"field":"t2"},"y":{"field":"v","type":"quantitative","scale":{"domain":[0,347000]},
"axis":{"orient":"right","values":[20000,40000,60000,80000,100000,120000,140000,160000,180000,200000,220000,240000,260000,280000,300000,320000,340000],"tickSize":6,"labelPadding":3,"labelFontSize":12,"grid":true,
"gridOpacity":{"condition":{"test":"datum.value%100000===0","value":1},"value":0},
"labelExpr":"datum.value%100000===0?format(datum.value,','):''"}},
"y2":{"field":"v2"},
"color":{"field":"g","type":"nominal","legend":null,"scale":{"domain":["axis","bar"],"range":["#f3f5f8","#d9dee6"]}}}},
{"data":{"name":"candles"},"mark":{"type":"bar","size":2.9,"orient":"vertical","clip":true},
"encoding":{"y":{"field":"v","type":"quantitative","scale":{"domain":[0,347000]},"axis":null},
"color":{"condition":[{"test":"datum.c>datum.o","value":"#ee0000"},{"test":"datum.c<datum.o","value":"#1f66cc"}],"value":"#111111"}}},
{"data":{"name":"volKeys"},"mark":{"type":"bar","size":3,"orient":"vertical","color":"#c9b84e"},
"encoding":{"y":{"field":"v","type":"quantitative","scale":{"domain":[0,347000]},"axis":null},"y2":{"field":"v2"}}},
{"data":{"name":"volCorner"},"mark":{"type":"bar","color":"#8f9fc2"},
"encoding":{"x2":{"field":"t2"},"y":{"field":"v","type":"quantitative","scale":{"domain":[0,347000]},"axis":null},"y2":{"field":"v2"}}},
{"data":{"name":"volButtons"},"mark":{"type":"point","shape":"square","filled":true,"size":70,"color":"#c4cfdc","opacity":1},
"encoding":{"y":{"field":"v","type":"quantitative","scale":{"domain":[0,347000]},"axis":null}}},
{"data":{"name":"volNotes"},"mark":{"type":"text","align":"left","baseline":"middle","fontSize":12,"font":"Noto Sans CJK KR"},
"encoding":{"y":{"field":"v","type":"quantitative","scale":{"domain":[0,347000]},"axis":null},
"text":{"field":"label"},
"color":{"field":"g","type":"nominal","legend":null,"scale":{"domain":["vol","unit"],"range":["#cfc16a","#66768a"]}}}}
]
}
]
}
